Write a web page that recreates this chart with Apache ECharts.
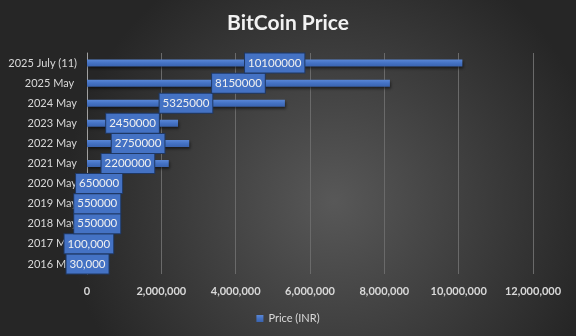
<!DOCTYPE html>
<html>
<head>
<meta charset="utf-8">
<script src="https://cdn.jsdelivr.net/npm/echarts@6/dist/echarts.min.js"></script>
<style>
  html, body { margin: 0; padding: 0; background: #333; }
  #chart { width: 576px; height: 336px; }
</style>
</head>
<body>
<div id="chart"></div>
<script>
// Categories listed bottom to top
const periods = ['2016 May', '2017 May', '2018 May', '2019 May', '2020 May',
  '2021 May', '2022 May', '2023 May', '2024 May', '2025 May ', '2025 July (11)'];
const priceINR = [30000, 100000, 550000, 550000, 650000,
  2200000, 2750000, 2450000, 5325000, 8150000, 10100000];
// Which value labels are printed with thousands separators
const groupedLabel = [true, true, false, false, false, false, false, false, false, false, false];
const xTicks = { min: 0, max: 12000000, interval: 2000000 };

const fontFamily = 'Lato, "Open Sans", sans-serif';
const chart = echarts.init(document.getElementById('chart'));

chart.setOption({
  backgroundColor: {
    type: 'radial', x: 0.58, y: 0.6, r: 0.8,
    colorStops: [
      { offset: 0, color: '#585858' },
      { offset: 1, color: '#262626' }
    ]
  },
  title: {
    text: 'BitCoin Price',
    left: 'center',
    top: 8,
    textStyle: { color: '#f2f2f2', fontSize: 21, fontWeight: 'bold', fontFamily }
  },
  legend: {
    bottom: 7,
    left: 'center',
    icon: 'rect',
    itemWidth: 7,
    itemHeight: 7,
    itemGap: 4,
    textStyle: { color: '#d9d9d9', fontSize: 11, fontFamily }
  },
  grid: { left: 87, right: 43, top: 53, bottom: 62, containLabel: false },
  xAxis: {
    type: 'value',
    min: xTicks.min,
    max: xTicks.max,
    interval: xTicks.interval,
    axisLine: { show: false },
    axisTick: { show: false },
    splitLine: { show: true, lineStyle: { color: '#6a6a6a', width: 1 } },
    axisLabel: {
      color: '#d9d9d9', fontSize: 11, fontWeight: 'bold', fontFamily, margin: 12,
      formatter: v => v.toLocaleString('en-US')
    }
  },
  yAxis: {
    type: 'category',
    data: periods,
    axisLine: { show: true, lineStyle: { color: '#a0a0a0', width: 1 } },
    axisTick: { show: false },
    axisLabel: { color: '#d9d9d9', fontSize: 11, fontFamily, margin: 10 }
  },
  series: [{
    name: 'Price (INR)',
    type: 'bar',
    data: priceINR,
    barWidth: 7,
    itemStyle: {
      color: {
        type: 'linear', x: 0, y: 0, x2: 0, y2: 1,
        colorStops: [
          { offset: 0, color: '#5a87d6' },
          { offset: 0.5, color: '#4472c4' },
          { offset: 1, color: '#3a63ae' }
        ]
      },
      shadowColor: 'rgba(0,0,0,0.55)',
      shadowBlur: 3,
      shadowOffsetX: 1,
      shadowOffsetY: 2
    },
    label: {
      show: true,
      position: 'inside',
      color: '#f0f0f0',
      fontSize: 11.5,
      fontFamily,
      backgroundColor: '#4472c4',
      borderColor: '#1f3864',
      borderWidth: 1,
      padding: [4, 3, 3, 3],
      formatter: p => groupedLabel[p.dataIndex]
        ? p.value.toLocaleString('en-US')
        : String(p.value)
    }
  }]
});
</script>
</body>
</html>
